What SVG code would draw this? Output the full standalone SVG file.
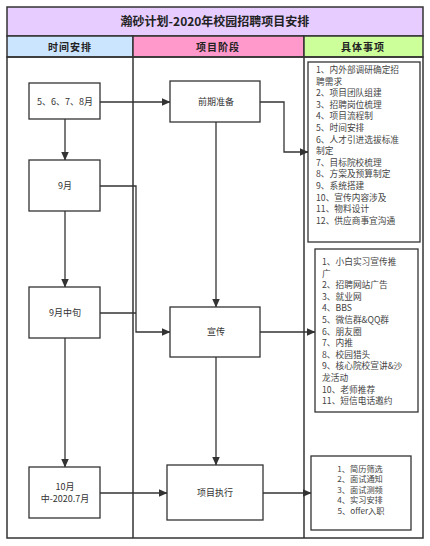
<svg xmlns="http://www.w3.org/2000/svg" width="430" height="546" viewBox="0 0 430 546">
<defs>
<marker id="arr" markerWidth="9" markerHeight="8" refX="8.5" refY="4" orient="auto" markerUnits="userSpaceOnUse">
<path d="M0,0 L9,4 L0,8 Z" fill="#333"/>
</marker>
<style>
.frame{fill:none;stroke:#333;stroke-width:1.5}
.box{fill:#fff;stroke:#333;stroke-width:1.3}
.lbl{font-family:"Noto Sans CJK SC","Liberation Serif",serif;font-size:9px;fill:#333;text-anchor:middle}
.item{font-family:"Noto Sans CJK SC","Liberation Serif",serif;font-size:8.7px;fill:#444}
.hdr{font-family:"Noto Sans CJK SC","Liberation Sans",sans-serif;font-size:10px;font-weight:bold;fill:#222;text-anchor:middle}
.conn{fill:none;stroke:#333;stroke-width:1.3}
</style>
</defs>
<rect width="430" height="546" fill="#fff"/>
<g id="frame">
<rect x="7" y="7" width="416" height="29" fill="#E6CCFF" stroke="#333" stroke-width="1.5"/>
<text x="215" y="26" class="hdr" style="font-size:12px">瀚砂计划-2020年校园招聘项目安排</text>
<rect x="7" y="36" width="126" height="21" fill="#CCE5FF" stroke="#333" stroke-width="1.5"/>
<rect x="133" y="36" width="171" height="21" fill="#FF99CC" stroke="#333" stroke-width="1.5"/>
<rect x="304" y="36" width="119" height="21" fill="#CCFF99" stroke="#333" stroke-width="1.5"/>
<text x="70" y="50.5" class="hdr" letter-spacing="1">时间安排</text>
<text x="218" y="50.5" class="hdr" letter-spacing="1">项目阶段</text>
<text x="363" y="50.5" class="hdr" letter-spacing="1">具体事项</text>
<rect x="7" y="57" width="416" height="481" class="frame"/>
<line x1="133" y1="57" x2="133" y2="538" class="frame"/>
<line x1="304" y1="57" x2="304" y2="538" class="frame"/>
</g>
<g id="connectors">
<line x1="100" y1="102" x2="170" y2="102" class="conn" marker-end="url(#arr)"/>
<line x1="65" y1="119" x2="65" y2="160" class="conn" marker-end="url(#arr)"/>
<line x1="65" y1="211" x2="65" y2="287" class="conn" marker-end="url(#arr)"/>
<line x1="65" y1="338" x2="65" y2="467" class="conn" marker-end="url(#arr)"/>
<polyline points="100,186 136,186 136,332 170,332" class="conn" marker-end="url(#arr)"/>
<line x1="100" y1="313" x2="136" y2="313" class="conn"/>
<line x1="100" y1="493" x2="167" y2="493" class="conn" marker-end="url(#arr)"/>
<line x1="216" y1="122" x2="216" y2="307" class="conn" marker-end="url(#arr)"/>
<line x1="216" y1="357" x2="216" y2="465" class="conn" marker-end="url(#arr)"/>
<polyline points="260,102 284,102 284,152 308,152" class="conn" marker-end="url(#arr)"/>
<line x1="260" y1="332" x2="315" y2="332" class="conn" marker-end="url(#arr)"/>
<line x1="263" y1="493" x2="311" y2="493" class="conn" marker-end="url(#arr)"/>
</g>
<g id="n-58">
<rect x="29" y="83" width="71" height="36" class="box"/>
<text x="65" y="105" class="lbl">5、6、7、8月</text>
</g>
<g id="n-9">
<rect x="29" y="160" width="71" height="51" class="box"/>
<text x="65" y="189" class="lbl">9月</text>
</g>
<g id="n-9mid">
<rect x="29" y="287" width="71" height="51" class="box"/>
<text x="65" y="316" class="lbl">9月中旬</text>
</g>
<g id="n-10">
<rect x="29" y="467" width="71" height="51" class="box"/>
<text x="65" y="490" class="lbl">10月</text>
<text x="65" y="502" class="lbl">中-2020.7月</text>
</g>
<g id="n-prep">
<rect x="170" y="81" width="90" height="41" class="box"/>
<text x="216" y="105" class="lbl">前期准备</text>
</g>
<g id="n-promo">
<rect x="170" y="307" width="90" height="50" class="box"/>
<text x="216" y="335" class="lbl">宣传</text>
</g>
<g id="n-exec">
<rect x="167" y="465" width="96" height="55" class="box"/>
<text x="215" y="496" class="lbl">项目执行</text>
</g>
<g id="d-prep">
<rect x="308" y="62" width="112" height="180" class="box" stroke-width="1.6"/>
<text class="item">
<tspan x="316" y="73">1、内外部调研确定招</tspan>
<tspan x="316" y="84.6">聘需求</tspan>
<tspan x="316" y="96.2">2、项目团队组建</tspan>
<tspan x="316" y="107.8">3、招聘岗位梳理</tspan>
<tspan x="316" y="119.4">4、项目流程制</tspan>
<tspan x="316" y="131">5、时间安排</tspan>
<tspan x="316" y="142.6">6、人才引进选拔标准</tspan>
<tspan x="316" y="154.2">制定</tspan>
<tspan x="316" y="165.8">7、目标院校梳理</tspan>
<tspan x="316" y="177.4">8、方案及预算制定</tspan>
<tspan x="316" y="189">9、系统搭建</tspan>
<tspan x="316" y="200.6">10、宣传内容涉及</tspan>
<tspan x="316" y="212.2">11、物料设计</tspan>
<tspan x="316" y="223.8">12、供应商事宜沟通</tspan>
</text>
</g>
<g id="d-promo">
<rect x="315" y="249" width="103" height="163" class="box"/>
<text class="item">
<tspan x="322" y="265">1、小白实习宣传推</tspan>
<tspan x="322" y="276.6">广</tspan>
<tspan x="322" y="288.2">2、招聘网站广告</tspan>
<tspan x="322" y="299.8">3、就业网</tspan>
<tspan x="322" y="311.4">4、BBS</tspan>
<tspan x="322" y="323">5、微信群&amp;QQ群</tspan>
<tspan x="322" y="334.6">6、朋友圈</tspan>
<tspan x="322" y="346.2">7、内推</tspan>
<tspan x="322" y="357.8">8、校园猎头</tspan>
<tspan x="322" y="369.4">9、核心院校宣讲&amp;沙</tspan>
<tspan x="322" y="381">龙活动</tspan>
<tspan x="322" y="392.6">10、老师推荐</tspan>
<tspan x="322" y="404.2">11、短信电话邀约</tspan>
</text>
</g>
<g id="d-exec">
<rect x="311" y="456" width="100" height="74" class="box"/>
<text class="item" text-anchor="middle" style="font-size:8.2px">
<tspan x="361" y="471.5">1、简历筛选</tspan>
<tspan x="361" y="482">2、面试通知</tspan>
<tspan x="361" y="492.5">3、面试测频</tspan>
<tspan x="361" y="503">4、实习安排</tspan>
<tspan x="361" y="513.5">5、offer入职</tspan>
</text>
</g>
</svg>
